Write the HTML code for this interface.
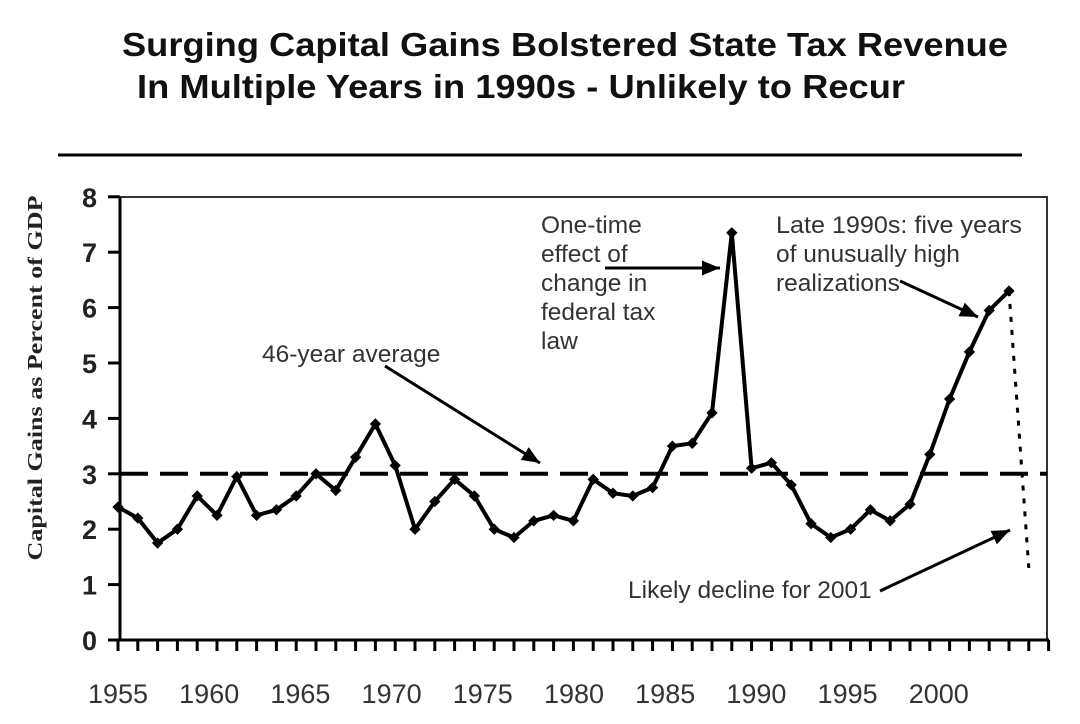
<!DOCTYPE html>
<html><head><meta charset="utf-8"><style>
html,body{margin:0;padding:0;background:#fff;}
svg{display:block;}
</style></head><body>
<svg id="chart" width="1080" height="724" viewBox="0 0 1080 724" xmlns="http://www.w3.org/2000/svg">
<g font-family="Liberation Sans, sans-serif" font-weight="bold" font-size="33" fill="#111">
<text x="122" y="56" textLength="886" lengthAdjust="spacingAndGlyphs">Surging Capital Gains Bolstered State Tax Revenue</text>
<text x="137" y="98" textLength="768" lengthAdjust="spacingAndGlyphs">In Multiple Years in 1990s - Unlikely to Recur</text>
</g>
<line x1="58" y1="155" x2="1022" y2="155" stroke="#000" stroke-width="3"/>
<rect x="120" y="197" width="927" height="443" fill="none" stroke="#333" stroke-width="2"/>
<text transform="translate(42,378) rotate(-90)" text-anchor="middle" textLength="365" lengthAdjust="spacingAndGlyphs" font-family="Liberation Serif, serif" font-weight="bold" font-size="21" fill="#222">Capital Gains as Percent of GDP</text>
<g id="axes"></g>
<g id="marks"></g>
<g font-family="Liberation Sans, sans-serif" font-size="24.5" fill="#333">
<text x="541" y="233"><tspan x="541">One-time</tspan><tspan x="541" dy="29">effect of</tspan><tspan x="541" dy="29">change in</tspan><tspan x="541" dy="29">federal tax</tspan><tspan x="541" dy="29">law</tspan></text>
<text x="776" y="233"><tspan x="776" textLength="246" lengthAdjust="spacingAndGlyphs">Late 1990s: five years</tspan><tspan x="776" dy="29">of unusually high</tspan><tspan x="776" dy="29">realizations</tspan></text>
<text x="262" y="362">46-year average</text>
<text x="628" y="598">Likely decline for 2001</text>
</g>
<defs><marker id="ah" markerWidth="6" markerHeight="5" refX="6" refY="2.5" orient="auto" markerUnits="strokeWidth"><path d="M0,0 L6,2.5 L0,5 z" fill="#000"/></marker></defs>
<g stroke="#000" stroke-width="3">
<line x1="605" y1="268" x2="720" y2="268" marker-end="url(#ah)"/>
<line x1="900" y1="281" x2="978" y2="317" marker-end="url(#ah)"/>
<line x1="385" y1="366" x2="540" y2="463" marker-end="url(#ah)"/>
<line x1="880" y1="591" x2="1010" y2="530" marker-end="url(#ah)"/>
</g>
</svg>
<script>
const years = [1955,1956,1957,1958,1959,1960,1961,1962,1963,1964,1965,1966,1967,1968,1969,1970,1971,1972,1973,1974,1975,1976,1977,1978,1979,1980,1981,1982,1983,1984,1985,1986,1987,1988,1989,1990,1991,1992,1993,1994,1995,1996,1997,1998,1999,2000];
const gainsPct = [2.4,2.2,1.75,2.0,2.6,2.25,2.95,2.25,2.35,2.6,3.0,2.7,3.3,3.9,3.15,2.0,2.5,2.9,2.6,2.0,1.85,2.15,2.25,2.15,2.9,2.65,2.6,2.75,3.5,3.55,4.1,7.35,3.1,3.2,2.8,2.1,1.85,2.0,2.35,2.15,2.45,3.35,4.35,5.2,5.95,6.3];
const projYears = [2000,2001];
const projValues = [6.3,1.3];
const averageValue = [3.0];
const yTicks = [0,1,2,3,4,5,6,7,8];
const xLabels = ["1955","1960","1965","1970","1975","1980","1985","1990","1995","2000"];

const NS='http://www.w3.org/2000/svg';
const X0=118, DX=19.8, Y0=640, DY=55.4;
const xs = y => X0 + (y-1955)*DX;
const ys = v => Y0 - v*DY;
function mk(tag, attrs, parent){const e=document.createElementNS(NS,tag);for(const k in attrs)e.setAttribute(k,attrs[k]);parent.appendChild(e);return e;}
const axes=document.getElementById('axes'), marks=document.getElementById('marks');

let e=mk('line',{x1:120,y1:197,x2:120,y2:Y0,stroke:'#000','stroke-width':3},axes);


e=mk('line',{x1:108,y1:Y0,x2:1049,y2:Y0,stroke:'#000','stroke-width':3},axes);


yTicks.forEach(t=>{
  let l=mk('line',{x1:108,y1:ys(t),x2:120,y2:ys(t),stroke:'#000','stroke-width':3},axes);
  
  
  let tx=mk('text',{x:97,y:ys(t)+10,'text-anchor':'end','font-family':'Liberation Sans, sans-serif','font-weight':'bold','font-size':27,fill:'#222'},axes);
  tx.textContent=t;
  
  
});
for(let y=1955;y<=2002;y++){
  let l=mk('line',{x1:xs(y),y1:Y0,x2:xs(y),y2:Y0+11,stroke:'#000','stroke-width':3},axes);
  
  
}
xLabels.forEach((s,i)=>{
  let tx=mk('text',{x:118+i*91.2,y:703,'text-anchor':'middle','font-family':'Liberation Sans, sans-serif','font-size':27,fill:'#333'},axes);
  tx.textContent=s;
  
  
});
e=mk('line',{x1:120,y1:ys(averageValue[0]),x2:1047,y2:ys(averageValue[0]),stroke:'#000','stroke-width':4,'stroke-dasharray':'28 12'},marks);


e=mk('polyline',{points:projYears.map((y,i)=>xs(y)+','+ys(projValues[i])).join(' '),fill:'none',stroke:'#000','stroke-width':3,'stroke-dasharray':'5 8'},marks);


e=mk('polyline',{points:years.map((y,i)=>xs(y)+','+ys(gainsPct[i])).join(' '),fill:'none',stroke:'#000','stroke-width':4,'stroke-linejoin':'round'},marks);


years.forEach((y,i)=>{
  let c=mk('rect',{x:xs(y)-4,y:ys(gainsPct[i])-4,width:8,height:8,fill:'#000',transform:'rotate(45 '+xs(y)+' '+ys(gainsPct[i])+')'},marks);
  
  
});
</script>
</body></html>
